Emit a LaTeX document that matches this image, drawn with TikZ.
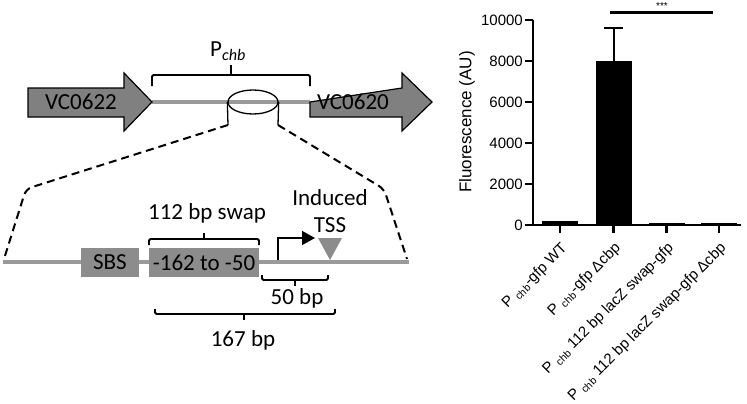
\documentclass[tikz,border=0pt]{standalone}
\usepackage{fontspec}
\setmainfont{Carlito}
\newfontfamily\chartfont{Liberation Sans}
\usetikzlibrary{shapes.geometric,arrows.meta}

\definecolor{genegray}{HTML}{808080}
\definecolor{linegray}{HTML}{9A9A9A}
\definecolor{boxgray}{HTML}{8C8C8C}

\tikzset{
  gene/.style={draw=black, line width=1.2pt, fill=genegray},
  dna/.style={linegray, line width=4.5pt},
  bracket/.style={line width=1.8pt, rounded corners=1.5pt},
  region/.style={fill=boxgray, minimum height=29pt, inner sep=0pt, font=\fontsize{23}{26}\selectfont},
  zoomline/.style={line width=2pt, dash pattern=on 8pt off 5pt, rounded corners=6pt},
  lbl/.style={font=\fontsize{23}{26}\selectfont, inner sep=0pt},
  axis/.style={line width=2.4pt},
  ticklbl/.style={font=\chartfont\fontsize{15}{17}\selectfont, inner sep=0pt},
  barlbl/.style={font=\chartfont\fontsize{15}{17}\selectfont, inner sep=0pt, rotate=45, anchor=east},
}

\begin{document}
\begin{tikzpicture}[x=1pt, y=-1pt]
  \useasboundingbox (0,0) rectangle (747,404);

  % genes around the promoter
  \coordinate (tipA) at (152,102);
  \coordinate (tailB) at (310,102);
  \draw[dna] (tipA) -- (tailB);
  \draw[gene] (28,88) -- (124,88) -- (124,73) -- (tipA) -- (124,131) -- (124,117) -- (28,117) -- cycle;
  \draw[gene] (tailB) -- (402,88) -- (402,73) -- (432,102) -- (402,131) -- (402,117) -- (310,117) -- cycle;
  \node[lbl, anchor=base] (vc0622) at (81,110) {VC0622};
  \node[lbl, anchor=base] (vc0620) at (353,110) {VC0620};

  \draw[bracket] (152,86) -- (152,75) -- (310,75) -- (310,86);
  \draw[bracket] (231,75) -- (231,65);
  \node[lbl, anchor=base] (pchb) at (228,57) {P\textsubscript{\textit{chb}}};

  \node[draw, ellipse, line width=1.3pt, minimum width=50pt, minimum height=24pt, inner sep=0pt] (loop) at (253,102) {};

  % zoomed promoter
  \coordinate (dnaL) at (3,262);
  \coordinate (dnaR) at (409,262);
  \draw[dna] (dnaL) -- (dnaR);

  \coordinate (lfoot) at (228,125);
  \coordinate (lbend) at (26,189);
  \coordinate (lend) at (4,259);
  \coordinate (rfoot) at (278,125);
  \coordinate (rbend) at (384,189);
  \coordinate (rend) at (407,259);
  \draw[line width=1.3pt] (loop.west) -- (lfoot);
  \draw[line width=1.3pt] (loop.east) -- (rfoot);
  \draw[zoomline] (lfoot) -- (lbend) -- (lend);
  \draw[zoomline] (rfoot) -- (rbend) -- (rend);

  \node[region, minimum width=58pt] (sbs) at (110,262.5) {SBS};
  \node[region, minimum width=110pt] (swap) at (204,262.5) {-162 to -50};

  \draw[bracket] (149,245) -- (149,239) -- (259,239) -- (259,245);
  \draw[bracket] (204,239) -- (204,233);
  \node[lbl, anchor=base] (swaplbl) at (207,219) {112 bp swap};

  \coordinate (pbase) at (278,260);
  \coordinate (phead) at (315,238);
  \draw[line width=1.5pt, -{Triangle[length=13pt,width=14pt]}] (pbase) |- (phead);

  \fill[boxgray] (318,238) -- (342,238) -- (330,260) -- cycle;
  \node[lbl, anchor=base] (induced) at (330,205) {Induced};
  \node[lbl, anchor=base] (tss) at (330,232) {TSS};

  \draw[bracket] (262,275) -- (262,280) -- (328,280) -- (328,275);
  \draw[bracket] (295,280) -- (295,286);
  \node[lbl, anchor=base] (bp50) at (297,304) {50 bp};

  \draw[bracket] (155,309) -- (155,314) -- (335,314) -- (335,309);
  \draw[bracket] (244,314) -- (244,320);
  \node[lbl, anchor=base] (bp167) at (243,346) {167 bp};

  % fluorescence chart
  \foreach \c/\v in {560/180, 613.5/8000, 666.5/120, 719/90}
    \fill ({\c-18},225) rectangle ({\c+18},{225-0.0205*\v});
  \draw[line width=2pt] (613.5,61) -- (613.5,28) (604,28) -- (623,28);

  \draw[axis] (533,20) -- (533,225) -- (741,225);
  \foreach \v in {0,2000,...,10000} {
    \draw[axis] (525,{225-0.0205*\v}) -- (533,{225-0.0205*\v});
    \node[ticklbl, anchor=east] (yt\v) at (523,{225-0.0205*\v}) {\v};
  }
  \foreach \c in {560,613.5,666.5,719}
    \draw[axis] (\c,225) -- (\c,233);
  \node[ticklbl, font=\chartfont\fontsize{17}{19}\selectfont, rotate=90] (ylabel) at (467,122) {Fluorescence (AU)};

  \draw[line width=2.4pt] (610,12.5) -- (713,12.5);
  \node[font=\chartfont\fontsize{10}{10}\selectfont, anchor=base, inner sep=0pt] (stars) at (662,10) {***};

  \node[barlbl] (wt) at (565,246) {P \textsubscript{chb}-gfp WT};
  \node[barlbl] (dcbp) at (618.5,246) {P \textsubscript{chb}-gfp Δcbp};
  \node[barlbl] (lacz) at (671.5,246) {P \textsubscript{chb} 112 bp lacZ swap-gfp};
  \node[barlbl] (laczd) at (724,246) {P \textsubscript{chb} 112 bp lacZ swap-gfp Δcbp};
\end{tikzpicture}
\end{document}
